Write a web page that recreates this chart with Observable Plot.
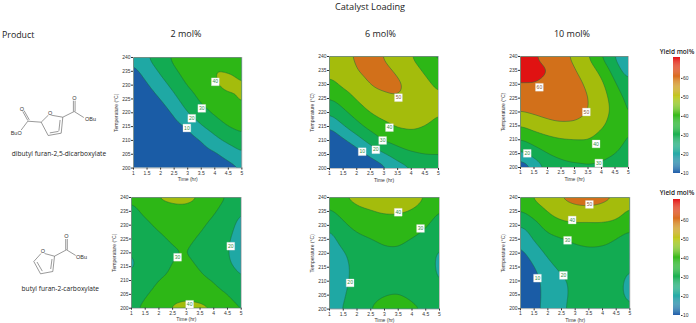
<!DOCTYPE html>
<html><head><meta charset="utf-8">
<script src="https://cdn.jsdelivr.net/npm/d3@7"></script>
<script src="https://cdn.jsdelivr.net/npm/@observablehq/plot@0.6"></script>
<style>
html,body{margin:0;padding:0;background:#fff}
#page{position:relative;width:696px;height:323px;overflow:hidden}
#page>svg{position:absolute;background:transparent}
.t{position:absolute;white-space:nowrap;font-family:"Open Sans",sans-serif;color:#222;line-height:1}
.c{transform:translateX(-50%)}
</style></head><body><div id="page"></div>
<script>
const di2 = [
 12,20,25,33,36,37,38,37,35,
 7,14.4,21.5,28.5,34,37,40.8,40,38,
 3,9,16,23,31,35,40,42.5,40.5,
 0,5,10,17.5,25.5,32,35,38.5,41.5,
 -3,1,5,11.5,20,27,31.5,34.5,37,
 -6,-2,1,6,11,19,25,30.5,33,
 -9,-5,-2,2,5,10,17,22.5,27,
 -12,-8,-5,-1,1,5,8,13,19,
 -15,-10,-8,-4,-2,1,4,6,9.5];
const di6 = [
 47,48.5,51,54,49,45,40,34,27,
 43,46,50,53,52.5,48.5,44,38.8,33,
 37,42,46,50.5,52.5,52,47,42.5,38,
 30,35,41,46,47.5,49.5,47,43.5,41,
 21,28,34,40.5,43,44.5,45,43,40.3,
 10,19,27,33,38,41,41.5,40,38,
 3,8,15,24,31,34,36.5,36,34,
 -3,1,5,12,19,25,28.5,30.5,30.5,
 -9,-5,-1,2,7,15,19,22,25];
const di10 = [
 70,60.4,57,54,47,40.4,29.5,19.5,7,
 65,63,60.5,57,51,44,38,25,14,
 59.5,59.9,58,56.5,54,48,42.5,31,22,
 54.5,56,56,55,55,50.2,45,35,27,
 50,51.5,53,53,53.5,50.1,45,37,28.5,
 40,43.5,47,49,48.5,46,41,37,29.7,
 29.5,34.5,37,39,39.8,40.5,36.5,35,28.5,
 17,24,30,33,33.5,33,31.5,30.3,26,
 1,10.5,22.5,26,28,29,29,26,23];
const mono2 = [
 31,34,41.5,43.5,43,40,34,29.8,25,
 28,31.5,34,36,37,35,31,26,19.5,
 25,28.5,31.5,33.5,34,31.5,27.5,23,17,
 21,25.5,28.5,31,31.5,29,25.5,21,16,
 19.5,23,26,29.2,30.15,27.5,24,20.5,15.5,
 18.5,22.5,26,30.8,32,29.3,24.5,21.5,17.5,
 21.3,26,30.2,33,34.5,32.5,29.6,25.5,20.2,
 25,29.2,33,37,37.5,36,33,30,25.5,
 28.5,32,36.5,41.5,43.5,43,40.2,34,30];
const mono6 = [
 33,40,43,44.5,46,46,44,40,33,
 28.5,34,38,39.5,41,41,39.5,36,29.3,
 21,28.3,33,35,36,36,34.5,31,25,
 16,24,27.5,29.5,31.5,32,29.5,27,21,
 12.5,19,24,27,28.5,28.5,26,23,18.5,
 11,17.5,23,25.5,27,27,25,22.5,18.5,
 11,17.5,23.5,26,28,28,26,23.5,19.3,
 13,19,25,28,29.7,30.3,28.5,25,21,
 16,20.5,26,30.2,33,34,32,29.5,24];
const mono10 = [
 36.5,41.5,46,51,53,53.5,52.5,50.2,45,
 29.5,35,40.5,45,47.5,48,47,44,38,
 19.5,26.5,34,37,38,37.5,38,37,33,
 12,21,27,29.2,31.5,33,32.5,29.7,25.5,
 7,15,22,26,27.5,28,27.5,26,23,
 3,9.5,17,22.5,24,25,25,23,20,
 0,7,13.5,18,22.5,24,23.5,21.5,18.5,
 -2,6.5,13.5,18,22,24.5,23.5,21.5,18.5,
 -3,7,14,18.5,23,26,25.5,23,20.5];

// Contour labels: [time, temperature, text]
const di2Labels = [[4.02,231.2,"40"],[3.52,221.6,"30"],[3.15,218,"20"],[2.97,214.5,"10"]];
const di6Labels = [[3.53,225.3,"50"],[3.2,214.6,"40"],[2.95,210,"30"],[2.7,206.7,"20"],[2.2,206,"10"]];
const di10Labels = [[1.7,228.9,"60"],[3.44,220,"50"],[3.8,208.5,"40"],[3.9,201.6,"30"],[1.25,205.1,"20"]];
const mono2Labels = [[2.68,218.4,"30"],[4.62,222.4,"20"],[3.12,201.4,"40"]];
const mono6Labels = [[3.5,234.7,"40"],[4.31,228.9,"30"],[1.75,209.4,"20"]];
const mono10Labels = [[3.52,237.5,"50"],[2.89,231.9,"40"],[2.72,224.6,"30"],[2.57,212,"20"],[1.62,211,"10"]];

const timeTicks = [1,1.5,2,2.5,3,3.5,4,4.5,5];
const tempTicks = [200,205,210,215,220,225,230,235,240];
const thresholds = [-1000,10,20,30,40,50,60];
const bandColors = ["#1a5ca6","#1fa8a4","#12ab52","#2db716","#a4bc0c","#d2701a","#e01212"];
const barStops = [10,20,30,40,50,60,70];
const barColors = ["#1c5aa8","#1fa8a4","#14ad4c","#2fb814","#c0c818","#d8701a","#e21010"];
const barTicks = [10,20,30,40,50,60];

// Structure drawings, in page pixels: [x1,y1,x2,y2]
const bondsDi = [[49.7,114.5,62.3,116.7],[62.3,116.7,60.7,132.7],[47.7,135,60.7,132.7],[40.7,121.7,47.7,135],[40.7,121.7,48,114.5],
 [59.6,119.5,58.4,130.3],[49.3,132.4,58,130.9],[62.3,116.7,73.7,111],[72.9,111,72.9,100],[74.6,111,74.6,100],[73.7,111,83.3,117],
 [40.7,121.7,27.3,120.7],[27.3,120,22,110.5],[28.8,119.4,23.5,110],[27.3,120.7,20.7,129.5]];
const atomsDi = [[49.7,112.3,"O"],[74,97.3,"O"],[90,118.3,"OBu"],[21.3,108.3,"O"],[15.7,132.7,"BuO"]];
const bondsMono = [[44,253,54,255.7],[54,255.7,52.3,271],[40,273.3,52.3,271],[33.3,261,40,273.3],[33.3,261,40.5,253],
 [51.5,258.5,50.2,268.5],[36.5,261.5,41.8,270.6],[54,255.7,66,249.3],[65.2,249.3,65.2,238.5],[66.8,249.3,66.8,238.5],[66,249.3,75.3,255]];
const atomsMono = [[42.3,250.3,"O"],[66,235.3,"O"],[81,256.7,"OBu"]];

const page = document.getElementById("page");
const axisFont = "'Liberation Sans',Arial,sans-serif";
const greenText = "#2f8f3f";
const rowTemps = [...tempTicks].reverse();

function text(s, x, y, size, cls, extra){
  const d = document.createElement("div");
  d.className = "t " + (cls||"");
  d.textContent = s;
  d.style.left = x+"px"; d.style.top = y+"px"; d.style.fontSize = size+"px";
  if (extra) Object.assign(d.style, extra);
  page.appendChild(d);
}

const ML=24, MR=5, MT=3, MB=17;
function panel(values, labels, x0, x1, y0, y1){
  const rows = labels.map(([t,T,s]) => ({t,T,s}));
  const points = values.map((v,i) => ({t: timeTicks[i%9], T: rowTemps[Math.floor(i/9)], v}));
  const p = Plot.plot({
    width: x1-x0+ML+MR, height: y1-y0+MT+MB,
    marginLeft: ML, marginRight: MR, marginTop: MT, marginBottom: MB,
    style: {fontFamily: axisFont, fontSize: "5px", color:"#333", background:"transparent"},
    x: {domain:[1,5]}, y: {domain:[200,240]},
    color: {type:"ordinal", domain: thresholds, range: bandColors},
    marks: [
      Plot.contour(points, {x:"t", y:"T", value:"v", fill:"value", interpolate:"barycentric", pixelSize:1, blur:4,
        thresholds, stroke:"#1c6b3c", strokeWidth:0.5, clip:"frame"}),
      Plot.frame({stroke:"#9a9a9a", strokeWidth:0.6}),
      Plot.axisX(timeTicks, {anchor:"bottom", tickSize:2, tickPadding:1, tickFormat:d=>String(d), fontSize:5,
        label:"Time (hr)", labelAnchor:"center", labelArrow:"none", labelOffset:13}),
      Plot.axisY(tempTicks, {anchor:"left", tickSize:2, tickPadding:1, fontSize:5,
        label:"Temperature (°C)", labelAnchor:"center", labelArrow:"none", labelOffset:19}),
      Plot.dot(rows, {x:"t", y:"T", symbol:"square", r:4.4, fill:"white", stroke:"#ddd", strokeWidth:0.3}),
      Plot.text(rows, {x:"t", y:"T", text:"s", fontSize:5, fill:d=>(+d.s>=50?"#8a5a30":greenText)})
    ]
  });
  p.style.left=(x0-ML)+"px"; p.style.top=(y0-MT)+"px";
  page.appendChild(p);
}

function colorbar(top, bottom){
  const h = bottom-top;
  const p = Plot.plot({
    width: 30, height: h+8, marginLeft: 1, marginRight: 22, marginTop: 2, marginBottom: 6,
    style:{fontFamily:axisFont,fontSize:"5px",color:"#333",background:"transparent"},
    x:{domain:[0,1],axis:null}, y:{domain:[10,71]},
    color:{type:"linear",domain:barStops,range:barColors},
    marks:[
      Plot.rect(d3.range(10,71,0.5),{x1:0,x2:1,y1:d=>d,y2:d=>d+0.5,fill:d=>d}),
      Plot.axisY(barTicks,{anchor:"right",tickSize:1.5,tickPadding:1,fontSize:5,label:null})
    ]
  });
  p.style.left="672px"; p.style.top=(top-2)+"px";
  page.appendChild(p);
}

function structures(){
  const bonds=[...bondsDi,...bondsMono], atoms=[...atomsDi,...atomsMono];
  const p = Plot.plot({
    width:120,height:323,margin:0,
    style:{background:"transparent"},
    x:{domain:[0,120],range:[0,120],axis:null}, y:{domain:[0,323],range:[0,323],axis:null},
    marks:[
      Plot.link(bonds,{x1:d=>d[0],y1:d=>d[1],x2:d=>d[2],y2:d=>d[3],stroke:"#555",strokeWidth:0.6}),
      Plot.text(atoms,{x:d=>d[0],y:d=>d[1],text:d=>d[2],fontSize:5.5,fill:"#333",fontFamily:"'Liberation Sans',sans-serif",stroke:"white",strokeWidth:1.2,paintOrder:"stroke"})
    ]
  });
  p.style.left="0px";p.style.top="0px";
  page.appendChild(p);
}

structures();
panel(di2, di2Labels, 133.3,241.7,56.7,167.3);
panel(di6, di6Labels, 329.3,438.3,55.7,167.7);
panel(di10, di10Labels, 520,628,56.3,167.3);
panel(mono2, mono2Labels, 131.3,241,197.3,308);
panel(mono6, mono6Labels, 329.3,439.3,196.7,308.3);
panel(mono10, mono10Labels, 520.3,629.7,197,308.3);
colorbar(57,173);
colorbar(199,315);

text("Catalyst Loading",370,1.5,9.2,"c");
text("Product",2,30.5,8.8);
text("2 mol%",186,29,9,"c");
text("6 mol%",380.5,29,9,"c");
text("10 mol%",572,29,9,"c");
text("dibutyl furan-2,5-dicarboxylate",59,150.5,6.6,"c");
text("butyl furan-2-carboxylate",60.3,285.5,6.6,"c");
text("Yield mol%",677,48.5,6.5,"c",{fontWeight:"600"});
text("Yield mol%",677,190,6.5,"c",{fontWeight:"600"});
</script></body></html>
